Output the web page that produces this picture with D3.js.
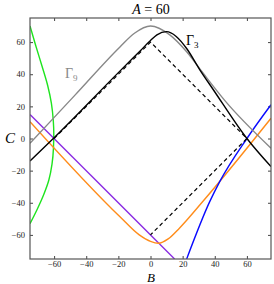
<!DOCTYPE html>
<html>
<head>
  <meta charset="utf-8">
  <title>A = 60</title>
  <script src="https://cdn.jsdelivr.net/npm/d3@7/dist/d3.min.js"></script>
</head>
<style>
  body {
    margin: 0;
    background: white;
  }

  .tick text {
    font-family: "Liberation Serif", "DejaVu Serif", serif;
    font-size: 8.5px;
    fill: #222;
  }

  .label {
    font-family: "Liberation Serif", "DejaVu Serif", serif;
    font-style: italic;
    fill: black;
  }
</style>
<body>
  <script>
    var width = 274;
    var height = 284;
    var margin = {left: 30, top: 18, right: 3, bottom: 25};

    // tick values
    var xTicks = [-60, -40, -20, 0, 20, 40, 60];
    var yTicks = [-60, -40, -20, 0, 20, 40, 60];

    // curves, [B, C]
    var dashedPath = [[-60, 0], [0, 60], [60, 0], [0, -60]];
    var gamma3 = [[-75, -14], [-60, 0.5], [-20, 41], [-6, 55], [0, 61], [4, 64.5], [10, 66.5],
      [16, 63.5], [22.5, 56], [30.8, 42.6], [39, 30.5], [60, 0], [75, -17.5]];
    var gamma9 = [[-75, -3], [-47, 27], [-19, 57], [-10, 65.5], [0, 70], [12, 64.5],
      [22.5, 54], [32.8, 40.6], [46.3, 23.6], [75, -6]];
    var greenCurve = [[-75, 70], [-71.5, 58], [-67.5, 45], [-64, 33], [-61.7, 22], [-60.5, 11], [-60.2, 3],
      [-60.4, -6], [-61.3, -16], [-63.3, -26], [-66.5, -35], [-70.5, -44], [-75, -53]];
    var purpleLine = [[-75, 15], [15, -75]];
    var orangeCurve = [[-75, 10.5], [-19, -48.7], [-7, -60], [0, -64], [5, -65.2], [11, -62.5],
      [18, -55.8], [32.8, -38.9], [75, 12.6]];
    var blueCurve = [[22.5, -75], [37, -39], [43, -27], [60, 0], [75, 21]];

    var svg = d3.select("body").append("svg")
      .attr("width", width)
      .attr("height", height);

    var plotW = width - margin.left - margin.right;
    var plotH = height - margin.top - margin.bottom;

    var xScale = d3.scaleLinear().domain([-75, 75]).range([margin.left, margin.left + plotW]);
    var yScale = d3.scaleLinear().domain([-75, 75]).range([margin.top + plotH, margin.top]);

    svg.append("clipPath").attr("id", "clip")
      .append("rect")
      .attr("x", margin.left).attr("y", margin.top)
      .attr("width", plotW).attr("height", plotH);

    var fmt = function(d) { return d < 0 ? "\u2212" + Math.abs(d) : "" + d; };

    // axes, ticks pointing inward
    svg.append("g")
      .attr("transform", "translate(0," + (margin.top + plotH) + ")")
      .call(d3.axisBottom(xScale).tickValues(xTicks).tickSize(-3).tickPadding(2).tickFormat(fmt));
    svg.append("g")
      .attr("transform", "translate(0," + margin.top + ")")
      .call(d3.axisTop(xScale).tickValues(xTicks).tickSize(-3).tickFormat(""));
    svg.append("g")
      .attr("transform", "translate(" + margin.left + ",0)")
      .call(d3.axisLeft(yScale).tickValues(yTicks).tickSize(-3).tickPadding(5).tickFormat(fmt));
    svg.append("g")
      .attr("transform", "translate(" + (margin.left + plotW) + ",0)")
      .call(d3.axisRight(yScale).tickValues(yTicks).tickSize(-3).tickFormat(""));

    svg.selectAll(".domain").remove();
    svg.selectAll(".tick line").attr("stroke", "#444");

    var line = d3.line()
      .x(function(d) { return xScale(d[0]); })
      .y(function(d) { return yScale(d[1]); });
    var smoothX = d3.line()
      .x(function(d) { return xScale(d[0]); })
      .y(function(d) { return yScale(d[1]); })
      .curve(d3.curveMonotoneX);
    var smoothY = d3.line()
      .x(function(d) { return xScale(d[0]); })
      .y(function(d) { return yScale(d[1]); })
      .curve(d3.curveMonotoneY);

    var plot = svg.append("g").attr("clip-path", "url(#clip)");

    plot.append("path").attr("d", smoothY(greenCurve))
      .attr("fill", "none").attr("stroke", "#1ee41e").attr("stroke-width", 1.4);
    plot.append("path").attr("d", line(purpleLine))
      .attr("fill", "none").attr("stroke", "#8a2be2").attr("stroke-width", 1.4);
    plot.append("path").attr("d", smoothX(orangeCurve))
      .attr("fill", "none").attr("stroke", "#ff8c1a").attr("stroke-width", 1.4);
    plot.append("path").attr("d", smoothX(blueCurve))
      .attr("fill", "none").attr("stroke", "#0a0aff").attr("stroke-width", 1.4);
    plot.append("path").attr("d", smoothX(gamma9))
      .attr("fill", "none").attr("stroke", "#888").attr("stroke-width", 1.4);
    plot.append("path").attr("d", smoothX(gamma3))
      .attr("fill", "none").attr("stroke", "black").attr("stroke-width", 1.4);
    plot.append("path").attr("d", line(dashedPath))
      .attr("fill", "none").attr("stroke", "black").attr("stroke-width", 1.2)
      .attr("stroke-dasharray", "4,3");

    // frame
    svg.append("rect")
      .attr("x", margin.left).attr("y", margin.top)
      .attr("width", plotW).attr("height", plotH)
      .attr("fill", "none").attr("stroke", "#555").attr("stroke-width", 1.2);

    // labels
    var title = svg.append("text")
      .attr("x", 151).attr("y", 14)
      .attr("text-anchor", "middle")
      .style("font-family", "Liberation Serif, DejaVu Serif, serif")
      .style("font-size", "14px");
    title.append("tspan").style("font-style", "italic").text("A");
    title.append("tspan").text(" = 60");

    svg.append("text").attr("class", "label")
      .attr("x", 151).attr("y", 282)
      .attr("text-anchor", "middle")
      .style("font-size", "13px")
      .text("B");

    svg.append("text").attr("class", "label")
      .attr("x", 10).attr("y", 143)
      .attr("text-anchor", "middle")
      .style("font-size", "15px")
      .text("C");

    var g3 = svg.append("text")
      .attr("x", 186).attr("y", 45)
      .style("font-family", "Liberation Serif, DejaVu Serif, serif")
      .style("font-size", "14px")
      .attr("fill", "black");
    g3.append("tspan").text("\u0393");
    g3.append("tspan").attr("dy", 3).style("font-size", "9px").text("3");

    var g9 = svg.append("text")
      .attr("x", 65).attr("y", 78)
      .style("font-family", "Liberation Serif, DejaVu Serif, serif")
      .style("font-size", "14px")
      .attr("fill", "#888");
    g9.append("tspan").text("\u0393");
    g9.append("tspan").attr("dy", 3).style("font-size", "9px").text("9");
  </script>
</body>
</html>
